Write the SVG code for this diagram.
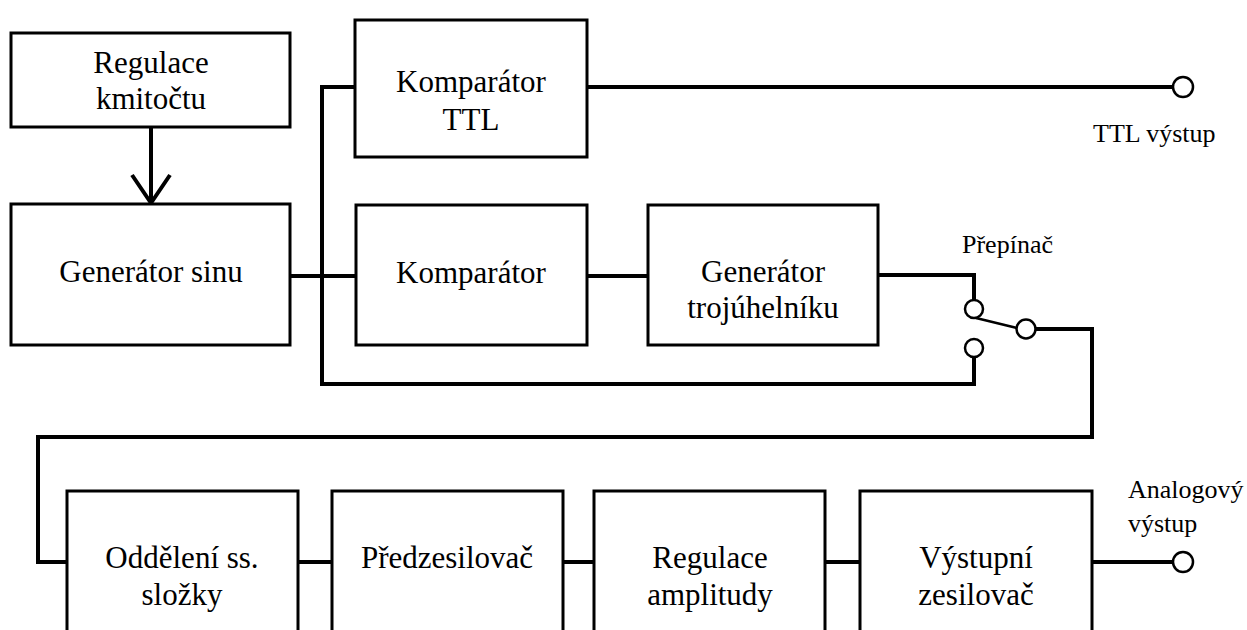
<svg xmlns="http://www.w3.org/2000/svg" width="1247" height="630" viewBox="0 0 1247 630">
<style>
.box{fill:#fff;stroke:#000;stroke-width:3}
.t{font-family:'Liberation Serif',Tinos,'Times New Roman',Times,'DejaVu Serif',serif;font-size:31px;fill:#000;text-anchor:middle}
.s{font-family:'Liberation Serif',Tinos,'Times New Roman',Times,'DejaVu Serif',serif;font-size:26px;fill:#000}
.w{fill:none;stroke:#000;stroke-width:4;stroke-linejoin:miter}
.c{fill:#fff;stroke:#000;stroke-width:2.5}
</style>
<rect width="1247" height="630" fill="#fff"/>
<g id="connectors">
<line class="w" x1="151" y1="127" x2="151" y2="203"/>
<polyline class="w" points="132,175 151,203 170,175"/>
<line class="w" x1="290" y1="276" x2="356" y2="276"/>
<polyline class="w" points="355,87 322,87 322,384 974,384 974,357"/>
<line class="w" x1="587" y1="87" x2="1173" y2="87"/>
<line class="w" x1="587" y1="276" x2="648" y2="276"/>
<polyline class="w" points="878,275 974,275 974,300"/>
<line stroke="#000" stroke-width="2.5" x1="976" y1="318" x2="1017" y2="328"/>
<polyline class="w" points="1035,329 1092,329 1092,437 38,437 38,562 67,562"/>
<line class="w" x1="298" y1="562" x2="332" y2="562"/>
<line class="w" x1="563" y1="562" x2="594" y2="562"/>
<line class="w" x1="825" y1="562" x2="860" y2="562"/>
<line class="w" x1="1092" y1="562" x2="1173" y2="562"/>
</g>
<g id="terminals">
<circle class="c" cx="1183" cy="87" r="10"/>
<circle class="c" cx="974" cy="309" r="9"/>
<circle class="c" cx="974" cy="348" r="9"/>
<circle class="c" cx="1026" cy="329" r="9.5"/>
<circle class="c" cx="1183" cy="562" r="10"/>
</g>
<g id="regulace-kmitoctu">
<rect class="box" x="11" y="33" width="279" height="94"/>
<text class="t" x="151" y="73">Regulace</text>
<text class="t" x="151" y="109">kmitočtu</text>
</g>
<g id="generator-sinu">
<rect class="box" x="11" y="204" width="279" height="141"/>
<text class="t" x="151" y="282">Generátor sinu</text>
</g>
<g id="komparator-ttl">
<rect class="box" x="355" y="20" width="232" height="137"/>
<text class="t" x="471" y="92">Komparátor</text>
<text class="t" x="471" y="130">TTL</text>
</g>
<g id="komparator">
<rect class="box" x="356" y="205" width="231" height="140"/>
<text class="t" x="471" y="283">Komparátor</text>
</g>
<g id="generator-trojuhelniku">
<rect class="box" x="648" y="205" width="230" height="140"/>
<text class="t" x="763" y="282">Generátor</text>
<text class="t" x="763" y="318">trojúhelníku</text>
</g>
<g id="oddeleni">
<rect class="box" x="67" y="491" width="231" height="150"/>
<text class="t" x="182" y="568">Oddělení ss.</text>
<text class="t" x="182" y="605">složky</text>
</g>
<g id="predzesilovac">
<rect class="box" x="332" y="491" width="231" height="150"/>
<text class="t" x="447" y="568">Předzesilovač</text>
</g>
<g id="regulace-amplitudy">
<rect class="box" x="594" y="491" width="231" height="150"/>
<text class="t" x="710" y="568">Regulace</text>
<text class="t" x="710" y="605">amplitudy</text>
</g>
<g id="vystupni-zesilovac">
<rect class="box" x="860" y="491" width="232" height="150"/>
<text class="t" x="976" y="568">Výstupní</text>
<text class="t" x="976" y="605">zesilovač</text>
</g>
<g id="labels">
<text class="s" x="1093" y="142">TTL výstup</text>
<text class="s" x="962" y="253">Přepínač</text>
<text class="s" x="1128" y="498">Analogový</text>
<text class="s" x="1128" y="532">výstup</text>
</g>
</svg>
